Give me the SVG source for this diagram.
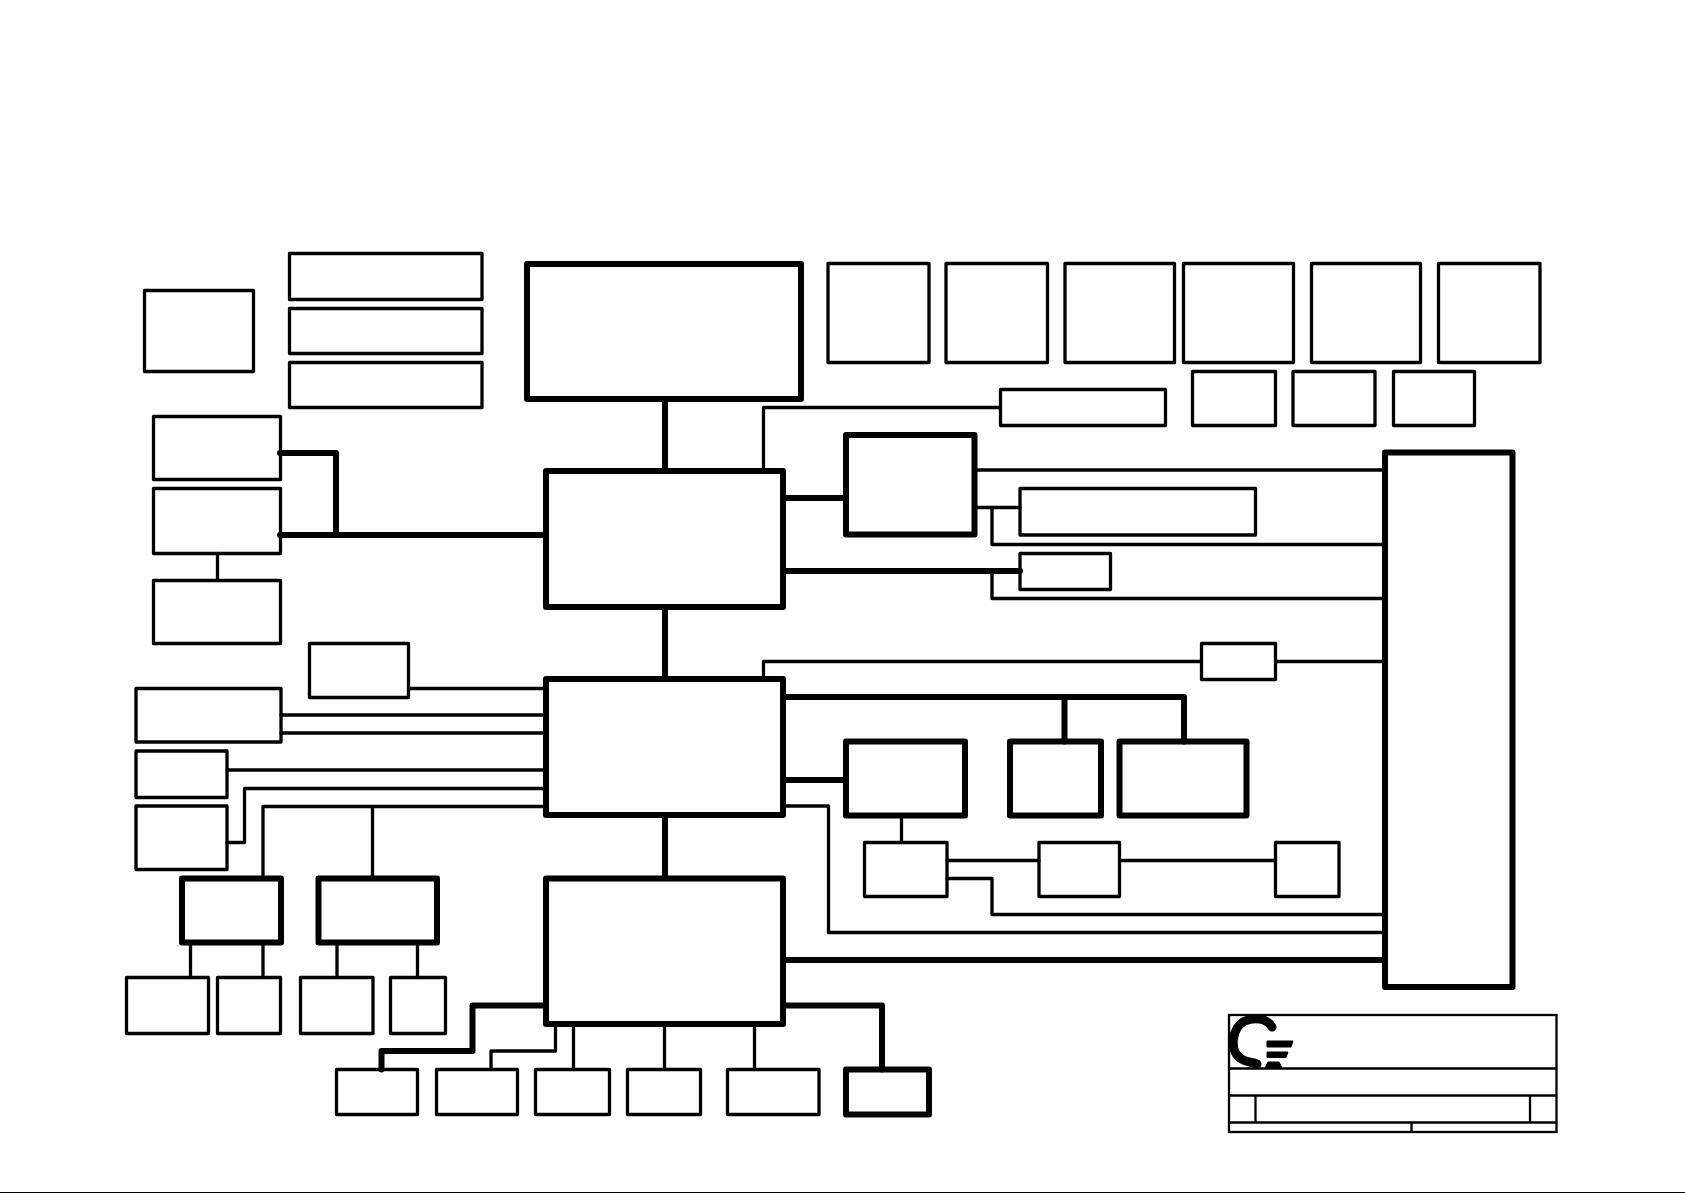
<svg xmlns="http://www.w3.org/2000/svg" width="1685" height="1193" viewBox="0 0 1685 1193">
<style>
.n{fill:#fff;stroke:#000;stroke-width:3.300;stroke-linejoin:round}
.b{fill:#fff;stroke:#000;stroke-width:6;stroke-linejoin:round}
.c{fill:none;stroke:#000;stroke-width:3.300;stroke-linejoin:round;stroke-linecap:round}
.t{fill:none;stroke:#000;stroke-width:6;stroke-linejoin:round;stroke-linecap:round}
.l{fill:none;stroke:#000;stroke-width:2.300}
</style>
<rect width="1685" height="1193" fill="#fff"/>
<rect x="0" y="1192" width="1685" height="1" fill="#000"/>
<g id="a"><rect class="n" x="144.5" y="290.5" width="109" height="81"/></g>
<g id="b1"><rect class="n" x="289.5" y="253.5" width="192.500" height="46"/></g>
<g id="b2"><rect class="n" x="289.5" y="308.5" width="192.500" height="45"/></g>
<g id="b3"><rect class="n" x="289.5" y="362.500" width="192.500" height="45"/></g>
<g id="c"><rect class="b" x="527" y="264" width="274" height="135"/></g>
<g id="d"><rect class="b" x="546" y="471" width="237" height="136"/></g>
<g id="e1"><rect class="n" x="153.500" y="416.5" width="127" height="63"/></g>
<g id="e2"><rect class="n" x="153.500" y="488.5" width="127" height="65"/></g>
<g id="e3"><rect class="n" x="153.500" y="580.5" width="127" height="63"/></g>
<g id="f"><rect class="n" x="309.5" y="643.5" width="99" height="54"/></g>
<g id="g"><rect class="b" x="546" y="679" width="237" height="136"/></g>
<g id="top1"><rect class="n" x="828" y="263.5" width="101" height="99"/></g>
<g id="top2"><rect class="n" x="946" y="263.5" width="101.500" height="99"/></g>
<g id="top3"><rect class="n" x="1065" y="263.5" width="109.500" height="99"/></g>
<g id="top4"><rect class="n" x="1183.5" y="263.5" width="110" height="99"/></g>
<g id="top5"><rect class="n" x="1311.5" y="263.5" width="109" height="99"/></g>
<g id="top6"><rect class="n" x="1438.5" y="263.5" width="101.500" height="99"/></g>
<g id="s0"><rect class="n" x="1000.5" y="389.5" width="165" height="36"/></g>
<g id="s1"><rect class="n" x="1192.5" y="371.5" width="83" height="54"/></g>
<g id="s2"><rect class="n" x="1293" y="371.5" width="82" height="54"/></g>
<g id="s3"><rect class="n" x="1393.5" y="371.5" width="81" height="54"/></g>
<g id="h"><rect class="b" x="846" y="435" width="128.500" height="99.500"/></g>
<g id="j"><rect class="n" x="1020" y="488.5" width="235.500" height="46.500"/></g>
<g id="i"><rect class="n" x="1020" y="553.5" width="90.500" height="36"/></g>
<g id="k"><rect class="n" x="1201.5" y="643.5" width="74" height="36"/></g>
<g id="r"><rect class="b" x="1385" y="452.5" width="127.500" height="534.500"/></g>
<g id="l"><rect class="b" x="846" y="741.5" width="119" height="74"/></g>
<g id="m"><rect class="b" x="1010" y="741.5" width="91" height="74"/></g>
<g id="o1"><rect class="b" x="1119.5" y="741.5" width="127" height="74"/></g>
<g id="p"><rect class="n" x="864.5" y="842.5" width="82.500" height="54"/></g>
<g id="q"><rect class="n" x="1039" y="842.5" width="80.500" height="54"/></g>
<g id="t1"><rect class="n" x="1275.5" y="842.5" width="63.500" height="54"/></g>
<g id="u"><rect class="n" x="136" y="688.5" width="145" height="53.500"/></g>
<g id="v"><rect class="n" x="136" y="751" width="91" height="46.500"/></g>
<g id="w"><rect class="n" x="136" y="806" width="91" height="63.500"/></g>
<g id="x1"><rect class="b" x="182" y="878.5" width="99" height="64"/></g>
<g id="x2"><rect class="b" x="318.500" y="878.5" width="118.500" height="64"/></g>
<g id="c1"><rect class="n" x="126.5" y="977.5" width="82" height="56"/></g>
<g id="c2"><rect class="n" x="217.500" y="977.5" width="63" height="56"/></g>
<g id="c3"><rect class="n" x="300.5" y="977.5" width="72.500" height="56"/></g>
<g id="c4"><rect class="n" x="390.5" y="977.5" width="55" height="56"/></g>
<g id="o"><rect class="b" x="546" y="878.5" width="237" height="145.500"/></g>
<g id="d1"><rect class="n" x="336.5" y="1069.5" width="81" height="45"/></g>
<g id="d2"><rect class="n" x="436.500" y="1069.5" width="81" height="45"/></g>
<g id="d3"><rect class="n" x="535.500" y="1069.5" width="74" height="45"/></g>
<g id="d4"><rect class="n" x="627.500" y="1069.5" width="73" height="45"/></g>
<g id="d5"><rect class="n" x="727.500" y="1069.5" width="91.500" height="45"/></g>
<g id="z"><rect class="b" x="846" y="1069.5" width="83" height="45"/></g>
<g id="connectors">
<path class="t" d="M665 399V471M665 607V679M665 815V878"/>
<path class="t" d="M280 453H336V535M280 535H546"/>
<path class="c" d="M217.500 553.500V580.500M408.500 688.500H546M763.500 471V407.500H1000.500"/>
<path class="t" d="M783 498H846M783 571H1020"/>
<path class="c" d="M974.500 470H1385M974.500 507.500H1020M992 507.500V544.500H1385M992 571V598.500H1385"/>
<path class="c" d="M763.500 679V661.500H1201.500M1275.500 661.500H1385"/>
<path class="t" d="M783 697H1184V741.500M1064.500 697V741.500M783 780H846M783 960H1385M783 1005.500H882V1069.500"/>
<path class="c" d="M783 806H828.500V932.500H1385M901.500 815.500V842.500M947 860.500H1039M1119.500 860.500H1275.500M947 878.500H992V914.500H1385"/>
<path class="c" d="M281 715H546M281 733H546M227 770H546M227 842.500H244.500V788.500H546M546 806.500H263V878.500M372.500 806.500V878.500"/>
<path class="c" d="M190.500 942.500V977.500M263 942.500V977.500M337 942.500V977.500M417.500 942.500V977.500"/>
<path class="t" d="M546 1005.500H472.500V1051H381.500V1069.500"/>
<path class="c" d="M555.500 1024V1051H491V1069.500M573.500 1024V1069.500M664.500 1024V1069.500M754.500 1024V1069.500"/>
</g>
<g id="title-block">
<rect class="l" x="1229" y="1015" width="327.500" height="117"/>
<path class="l" d="M1229 1068.500H1556.500M1229 1095.500H1556.500M1229 1122.500H1556.500M1255.500 1095.500V1122.500M1530 1095.500V1122.500M1411.500 1122.500V1132"/>
<path d="M1272 1027C1267 1018 1254 1017 1245 1021C1232 1027 1229 1050 1240 1058C1245 1062 1251 1062 1257 1064" fill="none" stroke="#000" stroke-width="9" stroke-linecap="round"/>
<path d="M1267 1041H1293L1291 1047H1267ZM1267 1052H1288L1286 1057.500H1267ZM1268 1062H1279L1282 1068H1265Z" fill="#000" stroke="#000" stroke-width="1" stroke-linejoin="round"/>
</g>
</svg>
